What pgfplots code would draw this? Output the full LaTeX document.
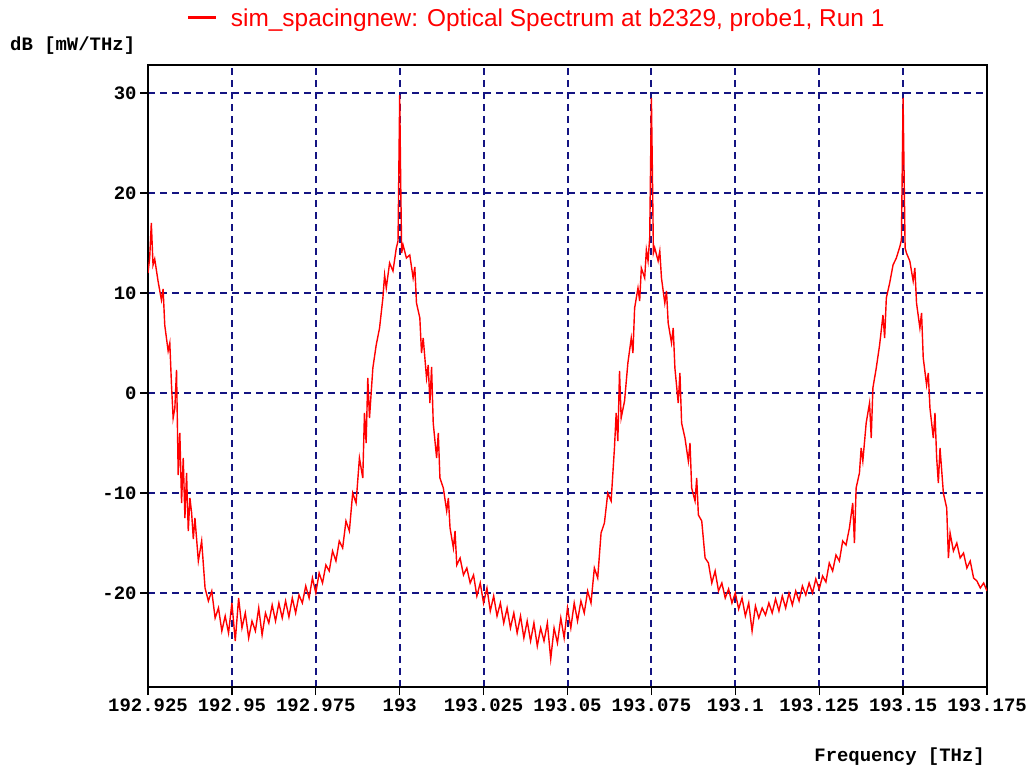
\documentclass[border=0pt]{standalone}
\usepackage{fontspec}
\setsansfont{Liberation Sans}
\setmonofont{Liberation Mono}
\usepackage{pgfplots}
\pgfplotsset{compat=1.18}
\definecolor{gridnavy}{RGB}{20,20,130}
\definecolor{trace}{RGB}{255,0,0}
\newcommand{\pixfont}{\ttfamily\bfseries\fontsize{19}{19}\selectfont}

\begin{document}
\begin{tikzpicture}
\path[use as bounding box] (0bp,0bp) rectangle (1033bp,773bp);
\begin{axis}[
  at={(148bp,86bp)}, anchor=south west,
  scale only axis, width=839bp, height=622bp,
  % frequency shown as GHz offset from 192.925 THz
  x filter/.expression={1000*(x-192.925)},
  xmin=0, xmax=250, ymin=-29.4, ymax=32.8,
  xtick={0,25,50,75,100,125,150,175,200,225,250},
  xticklabels={192.925,192.95,192.975,193,193.025,193.05,193.075,193.1,193.125,193.15,193.175},
  ytick={-20,-10,0,10,20,30},
  yticklabels={-20,-10,0,10,20,30},
  xtick pos=lower, ytick pos=left,
  tick align=outside, major tick length=8bp,
  every tick/.append style={black, line width=1.3bp},
  axis line style={black, line width=1.5bp},
  xmajorgrids=true, ymajorgrids=true,
  grid style={draw=gridnavy, line width=2bp, dash pattern=on 7bp off 5bp},
  tick label style={font=\pixfont},
  legend style={at={(0.0424,1.0756)}, anchor=west, draw=none, fill=none,
    font=\sffamily\fontsize{24.5}{24.5}\selectfont, text=trace},
  legend image code/.code={\draw[trace, line width=3bp] (0bp,0bp) -- (28bp,0bp); \path (40bp,0bp);},
]
\addplot[trace, line width=1.4bp] coordinates {
(192.925,12.0)(192.9255,13.5)(192.926,17.0)(192.9265,12.8)(192.927,13.4)
(192.928,11.2)(192.929,9.3)(192.9295,10.4)(192.930,6.8)(192.931,4.2)
(192.9315,5.0)(192.932,0.8)(192.9325,-2.5)(192.933,-1.5)(192.9335,2.3)
(192.934,-8.2)(192.9345,-4.0)(192.935,-11.0)(192.9355,-6.5)(192.936,-12.5)
(192.9365,-8.0)(192.937,-13.8)(192.9375,-10.5)(192.938,-12.0)(192.9385,-14.6)
(192.939,-12.5)(192.940,-16.8)(192.941,-14.8)(192.942,-19.5)(192.943,-20.8)
(192.944,-19.8)(192.945,-22.5)(192.946,-21.5)(192.947,-23.8)(192.948,-22.3)
(192.949,-24.0)(192.950,-21.0)(192.951,-24.8)(192.952,-20.5)(192.953,-23.5)
(192.954,-22.0)(192.955,-24.5)(192.956,-22.8)(192.957,-23.8)(192.958,-21.5)
(192.959,-24.2)(192.960,-22.0)(192.961,-23.0)(192.962,-21.2)(192.963,-22.8)
(192.964,-21.0)(192.965,-22.5)(192.966,-20.8)(192.967,-22.4)(192.968,-20.5)
(192.969,-22.0)(192.970,-20.2)(192.971,-21.0)(192.972,-19.3)(192.973,-20.5)
(192.974,-18.5)(192.975,-20.0)(192.976,-18.0)(192.977,-19.0)(192.978,-17.2)
(192.979,-17.8)(192.980,-15.8)(192.981,-16.8)(192.982,-14.8)(192.983,-15.5)
(192.984,-12.8)(192.985,-13.8)(192.986,-10.0)(192.987,-11.0)(192.988,-6.5)
(192.989,-8.5)(192.9895,-2.0)(192.990,-5.0)(192.9905,1.5)(192.991,-2.5)
(192.992,2.5)(192.993,4.8)(192.994,6.5)(192.995,9.5)(192.9955,11.8)
(192.996,10.5)(192.997,13.0)(192.998,12.2)(192.999,14.5)(192.9995,15.2)
(193.000,29.8)(193.0003,21.0)(193.0006,14.0)(193.001,14.8)(193.002,13.5)
(193.003,13.8)(193.004,11.5)(193.0045,12.6)(193.005,9.0)(193.006,7.5)
(193.0065,4.0)(193.007,5.5)(193.008,1.5)(193.0085,2.8)(193.009,-1.0)
(193.0095,2.6)(193.010,-3.0)(193.011,-6.5)(193.0115,-4.0)(193.012,-8.5)
(193.013,-9.5)(193.014,-11.8)(193.0145,-10.5)(193.015,-13.5)(193.016,-15.5)
(193.0165,-13.8)(193.017,-17.2)(193.018,-16.5)(193.019,-18.2)(193.020,-17.5)
(193.021,-19.0)(193.022,-18.2)(193.023,-20.3)(193.024,-19.0)(193.025,-21.0)
(193.026,-19.5)(193.027,-21.8)(193.028,-20.3)(193.029,-22.3)(193.030,-21.0)
(193.031,-23.0)(193.032,-21.5)(193.033,-23.5)(193.034,-22.0)(193.035,-24.0)
(193.036,-22.3)(193.037,-24.5)(193.038,-22.8)(193.039,-24.8)(193.040,-23.0)
(193.041,-25.3)(193.042,-23.5)(193.043,-24.8)(193.044,-23.0)(193.045,-26.6)
(193.046,-23.5)(193.047,-25.0)(193.048,-22.5)(193.049,-24.5)(193.050,-21.5)
(193.051,-23.5)(193.052,-21.0)(193.053,-22.8)(193.054,-20.8)(193.055,-22.0)
(193.056,-19.8)(193.057,-21.0)(193.058,-17.5)(193.059,-18.5)(193.060,-14.0)
(193.061,-13.0)(193.062,-10.0)(193.063,-10.8)(193.064,-5.5)(193.0645,-2.0)
(193.065,-4.8)(193.0655,2.2)(193.066,-2.5)(193.067,-0.8)(193.068,3.0)
(193.069,5.5)(193.0695,4.0)(193.070,8.5)(193.071,10.5)(193.0715,9.2)
(193.072,12.5)(193.073,11.5)(193.0735,14.3)(193.074,13.2)(193.0745,15.5)
(193.075,29.5)(193.0753,22.0)(193.0756,14.0)(193.076,14.5)(193.077,13.2)
(193.0775,14.2)(193.078,11.5)(193.079,9.0)(193.0795,10.2)(193.080,7.0)
(193.081,5.0)(193.0815,6.5)(193.082,2.5)(193.083,-1.0)(193.0835,2.0)
(193.084,-3.0)(193.085,-4.5)(193.086,-6.8)(193.0865,-5.0)(193.087,-9.5)
(193.088,-10.8)(193.0885,-8.5)(193.089,-12.2)(193.090,-12.8)(193.091,-16.5)
(193.092,-17.0)(193.093,-19.0)(193.094,-17.8)(193.095,-19.8)(193.096,-19.0)
(193.097,-20.5)(193.098,-19.6)(193.099,-21.0)(193.100,-20.0)(193.101,-21.6)
(193.102,-20.5)(193.103,-22.3)(193.104,-21.0)(193.105,-23.8)(193.106,-21.3)
(193.107,-22.5)(193.108,-21.5)(193.109,-22.2)(193.110,-21.0)(193.111,-22.0)
(193.112,-20.6)(193.113,-21.8)(193.114,-20.3)(193.115,-21.5)(193.116,-20.0)
(193.117,-21.2)(193.118,-19.8)(193.119,-20.8)(193.120,-19.3)(193.121,-20.2)
(193.122,-19.0)(193.123,-20.0)(193.124,-18.6)(193.125,-19.6)(193.126,-18.3)
(193.127,-18.9)(193.128,-17.0)(193.129,-17.8)(193.130,-16.2)(193.131,-16.8)
(193.132,-14.8)(193.133,-15.2)(193.134,-13.5)(193.135,-11.0)(193.1355,-15.0)
(193.136,-9.5)(193.137,-8.0)(193.1375,-5.5)(193.138,-6.8)(193.139,-3.0)
(193.140,-1.0)(193.1405,-4.5)(193.141,0.5)(193.142,2.5)(193.143,4.8)
(193.144,7.8)(193.1445,5.5)(193.145,9.5)(193.146,11.0)(193.147,12.8)
(193.148,13.5)(193.149,14.6)(193.1495,15.3)(193.150,29.5)(193.1503,21.8)
(193.1506,14.5)(193.151,14.0)(193.152,13.2)(193.153,11.2)(193.1535,12.5)
(193.154,9.0)(193.155,6.5)(193.1555,8.0)(193.156,3.5)(193.157,0.8)
(193.1575,2.0)(193.158,-1.5)(193.159,-4.5)(193.1595,-2.0)(193.160,-6.5)
(193.1605,-9.0)(193.161,-5.5)(193.162,-10.0)(193.163,-11.5)(193.1635,-16.5)
(193.164,-14.0)(193.165,-15.8)(193.166,-15.0)(193.167,-16.5)(193.168,-16.0)
(193.169,-17.5)(193.170,-16.8)(193.171,-18.5)(193.172,-18.8)(193.173,-19.5)
(193.174,-19.0)(193.175,-19.8)
};
\addlegendentry{sim\_spacingnew: Optical Spectrum at b2329, probe1, Run 1}
\end{axis}
\node[anchor=west, inner sep=0pt, font=\pixfont] at (10bp,727bp) {dB [mW/THz]};
\node[anchor=east, inner sep=0pt, font=\pixfont] at (985bp,16bp) {Frequency [THz]};
\end{tikzpicture}
\end{document}
